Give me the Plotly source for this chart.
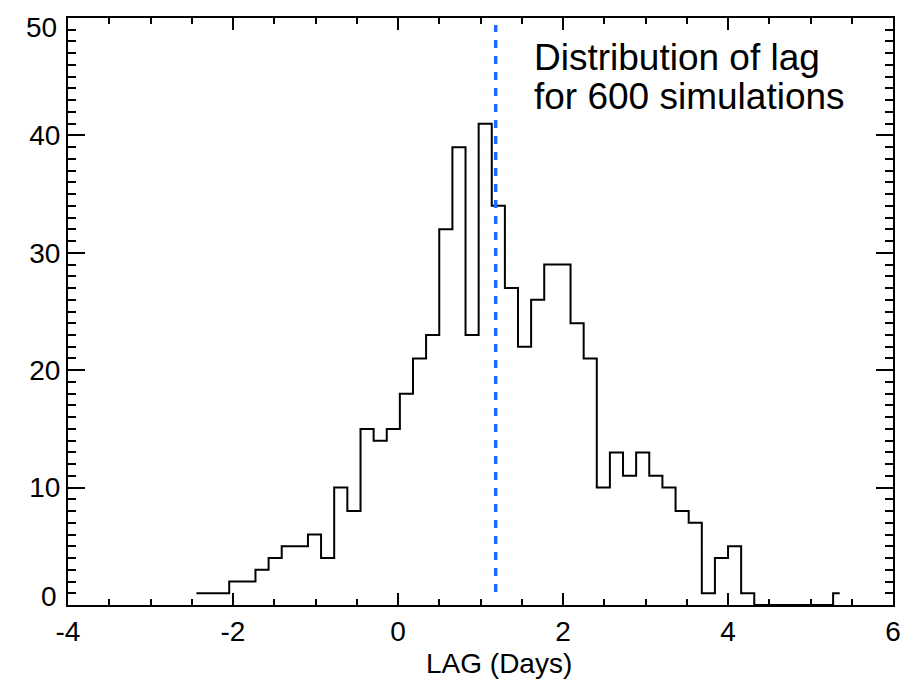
import plotly.graph_objects as go

# Bin centres of the lag histogram (days)
lag_bin_centers = [
    -2.444, -2.285, -2.126, -1.966, -1.807, -1.648, -1.489, -1.330, -1.171, -1.012,
    -0.853, -0.694, -0.534, -0.375, -0.216, -0.057, 0.102, 0.261, 0.420, 0.580,
    0.739, 0.898, 1.057, 1.216, 1.375, 1.534, 1.693, 1.852, 2.012, 2.171,
    2.330, 2.489, 2.648, 2.807, 2.966, 3.125, 3.285, 3.444, 3.603, 3.762,
    3.921, 4.080, 4.239, 4.398, 4.558, 4.717, 4.876, 5.035, 5.194, 5.354,
]
# Number of simulations in each bin (total 600)
counts = [
    1, 1, 1, 2, 2, 3, 4, 5, 5, 6,
    4, 10, 8, 15, 14, 15, 18, 21, 23, 32,
    39, 23, 41, 34, 27, 22, 26, 29, 29, 24,
    21, 10, 13, 11, 13, 11, 10, 8, 7, 1,
    4, 5, 1, 0, 0, 0, 0, 0, 0, 1,
]
mean_lag = 1.184
mean_line_y = [1.1, 49.4]

x_tick_vals = [-4, -2, 0, 2, 4, 6]
x_tick_text = ["-4", "-2", "0", "2", "4", "6"]
y_tick_vals = [0, 10, 20, 30, 40, 50]
y_tick_text = ["0", "10", "20", "30", "40", "50"]

note_lines = ["Distribution of lag", "for 600 simulations"]
x_title = "LAG (Days)"

FONT = "Liberation Sans, Arial, Helvetica, sans-serif"
TICK_SIZE = 28

fig = go.Figure()
fig.add_trace(go.Scatter(
    x=lag_bin_centers, y=counts, mode="lines",
    line=dict(color="black", width=2, shape="hvh"),
    showlegend=False, hoverinfo="skip",
))
fig.add_trace(go.Scatter(
    x=[mean_lag, mean_lag], y=mean_line_y, mode="lines",
    line=dict(color="#1f6bff", width=3.5, dash="8px,8px"),
    showlegend=False, hoverinfo="skip",
))

# end labels of the y axis sit slightly inside the frame
y_inner_text = [t if v not in (y_tick_vals[0], y_tick_vals[-1]) else "" for v, t in zip(y_tick_vals, y_tick_text)]

annotations = [
    dict(text=note_lines[0], x=1.62, y=46.6, xref="x", yref="y", xanchor="left", yanchor="middle",
         showarrow=False, font=dict(family=FONT, size=37, color="black")),
    dict(text=note_lines[1], x=1.62, y=43.3, xref="x", yref="y", xanchor="left", yanchor="middle",
         showarrow=False, font=dict(family=FONT, size=37, color="black")),
    dict(text=x_title, x=0.522, y=-0.1, xref="paper", yref="paper", xanchor="center", yanchor="middle",
         showarrow=False, font=dict(family=FONT, size=TICK_SIZE, color="black")),
    dict(text=y_tick_text[0], x=0, y=y_tick_vals[0], xref="paper", yref="y", xanchor="right", yanchor="middle",
         xshift=-9, yshift=9, showarrow=False, font=dict(family=FONT, size=TICK_SIZE, color="black")),
    dict(text=y_tick_text[-1], x=0, y=y_tick_vals[-1], xref="paper", yref="y", xanchor="right", yanchor="middle",
         xshift=-9, yshift=-9, showarrow=False, font=dict(family=FONT, size=TICK_SIZE, color="black")),
]

fig.update_layout(
    width=917, height=687,
    margin=dict(l=68, r=24, t=18, b=82),
    plot_bgcolor="white", paper_bgcolor="white",
    font=dict(family=FONT, size=TICK_SIZE, color="black"),
    annotations=annotations,
    xaxis=dict(
        range=[-4, 6], tickvals=x_tick_vals, ticktext=x_tick_text,
        ticks="inside", ticklen=12, tickwidth=2, tickcolor="black",
        minor=dict(dtick=0.5, ticks="inside", ticklen=6, tickwidth=2, tickcolor="black"),
        showline=True, linewidth=2, linecolor="black", mirror="allticks",
        showgrid=False, zeroline=False,
        tickfont=dict(family=FONT, size=TICK_SIZE, color="black"),
    ),
    yaxis=dict(
        range=[0, 50], tickvals=y_tick_vals, ticktext=y_inner_text,
        ticks="inside", ticklen=17, tickwidth=2, tickcolor="black",
        minor=dict(dtick=1, ticks="inside", ticklen=8, tickwidth=2, tickcolor="black"),
        showline=True, linewidth=2, linecolor="black", mirror="allticks",
        showgrid=False, zeroline=False,
        tickfont=dict(family=FONT, size=TICK_SIZE, color="black"),
    ),
)

fig.write_html("out.html")
